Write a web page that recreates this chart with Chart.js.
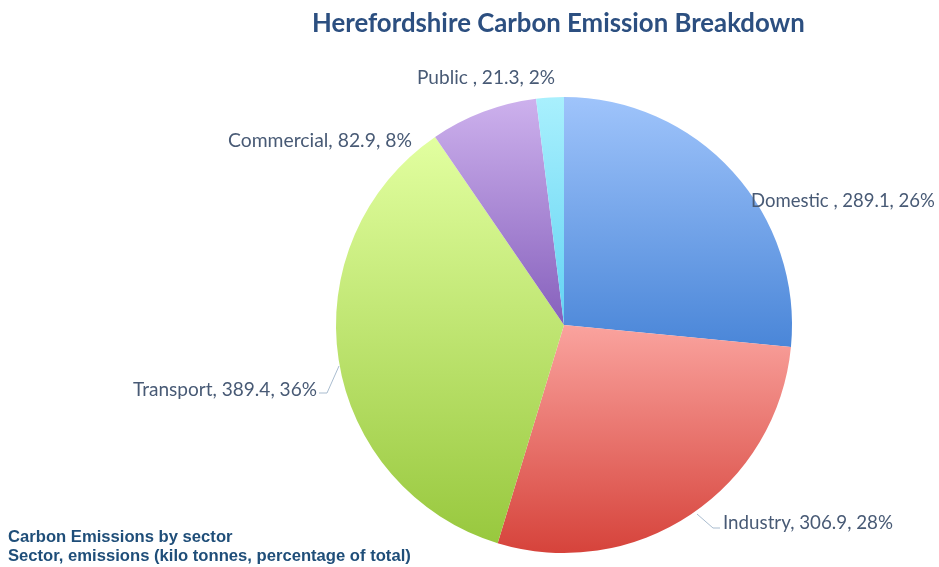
<!DOCTYPE html>
<html>
<head>
<meta charset="utf-8">
<script src="https://cdn.jsdelivr.net/npm/chart.js@4"></script>
<style>
  html, body { margin: 0; padding: 0; background: #fff; }
  #wrap { width: 939px; height: 567px; position: relative; }
</style>
</head>
<body>
<div id="wrap"><canvas id="pieChart" width="939" height="567"></canvas></div>
<script>
// Data
const sectors = ['Domestic', 'Industry', 'Transport', 'Commercial', 'Public'];
const emissions = [289.1, 306.9, 389.4, 82.9, 21.3];
const percents = [26, 28, 36, 8, 2];
const sectorLabels = ['Domestic , 289.1, 26%', 'Industry, 306.9, 28%', 'Transport, 389.4, 36%', 'Commercial, 82.9, 8%', 'Public , 21.3, 2%'];

const titleText = 'Herefordshire Carbon Emission Breakdown';
const noteLines = ['Carbon Emissions by sector', 'Sector, emissions (kilo tonnes, percentage of total)'];

// gradient colours per slice (top -> bottom)
const gradTop = ['#9fc4fb', '#faa39e', '#e2ffa0', '#cdb1ed', '#a9f0fd'];
const gradBottom = ['#4a86d8', '#d6433b', '#98c83e', '#8660bc', '#62d3f3'];

// label placement: left x, middle y, target width
const labelPos = [
    { x: 751, y: 201, w: 184 },
    { x: 723, y: 523, w: 170 },
    { x: 133, y: 390, w: 184 },
    { x: 228, y: 141, w: 184 },
    { x: 417, y: 78, w: 138 }
];
// leader lines (only drawn for some slices)
const leaders = {
    1: [[697, 514], [713, 528], [720, 528]],
    2: [[339, 366], [327, 393], [319, 393]]
};

const FONT = 'Lato, "Open Sans", sans-serif';
const NOTE_FONT = '"Liberation Sans", Arial, sans-serif';

function fitSize(ctx, text, weight, family, width) {
    ctx.font = weight + ' 20px ' + family;
    return 20 * width / ctx.measureText(text).width;
}

// vertical extent of a sector, used for per-slice gradients
function sectorExtent(cx, cy, r, a0, a1) {
    const ys = [cy, cy + r * Math.sin(a0), cy + r * Math.sin(a1)];
    [-Math.PI / 2, Math.PI / 2, Math.PI * 1.5].forEach(a => {
        if (a > a0 && a < a1) ys.push(cy + r * Math.sin(a));
    });
    return [Math.min(...ys), Math.max(...ys)];
}

function sliceFill(context) {
    const chart = context.chart;
    const area = chart.chartArea;
    const i = context.dataIndex;
    if (!area) return gradTop[i];
    const cx = (area.left + area.right) / 2;
    const cy = (area.top + area.bottom) / 2;
    const r = Math.min(area.right - area.left, area.bottom - area.top) / 2;
    const total = emissions.reduce((a, b) => a + b, 0);
    let before = 0;
    for (let k = 0; k < i; k++) before += emissions[k];
    const a0 = -Math.PI / 2 + before / total * Math.PI * 2;
    const a1 = a0 + emissions[i] / total * Math.PI * 2;
    const [y0, y1] = sectorExtent(cx, cy, r, a0, a1);
    const g = chart.ctx.createLinearGradient(0, y0, 0, y1);
    g.addColorStop(0, gradTop[i]);
    g.addColorStop(1, gradBottom[i]);
    return g;
}

const textPlugin = {
    id: 'textPlugin',
    afterDraw(chart) {
        const ctx = chart.ctx;
        ctx.save();

        // title
        const ts = fitSize(ctx, titleText, 'bold', FONT, 493);
        ctx.font = 'bold ' + ts + 'px ' + FONT;
        ctx.fillStyle = '#2c4f80';
        ctx.textBaseline = 'middle';
        ctx.textAlign = 'left';
        ctx.fillText(titleText, 312, 24);

        // leader lines
        ctx.strokeStyle = '#a9bccf';
        ctx.lineWidth = 1;
        Object.keys(leaders).forEach(k => {
            const pts = leaders[k];
            ctx.beginPath();
            ctx.moveTo(pts[0][0], pts[0][1]);
            for (let j = 1; j < pts.length; j++) ctx.lineTo(pts[j][0], pts[j][1]);
            ctx.stroke();
        });

        // slice labels
        ctx.fillStyle = '#485a75';
        sectorLabels.forEach((txt, i) => {
            const p = labelPos[i];
            const s = fitSize(ctx, txt, 'normal', FONT, p.w);
            ctx.font = s + 'px ' + FONT;
            ctx.fillText(txt, p.x, p.y);
        });

        // note at bottom left
        const ns = fitSize(ctx, noteLines[1], 'bold', NOTE_FONT, 403);
        ctx.fillStyle = '#1f4e79';
        ctx.font = 'bold ' + ns + 'px ' + NOTE_FONT;
        ctx.fillText(noteLines[0], 8, 537);
        ctx.fillText(noteLines[1], 8, 556);

        ctx.restore();
    }
};

const ctx = document.getElementById('pieChart').getContext('2d');
new Chart(ctx, {
    type: 'pie',
    data: {
        labels: sectors,
        datasets: [{
            data: emissions,
            backgroundColor: sliceFill,
            borderWidth: 0
        }]
    },
    options: {
        responsive: false,
        animation: false,
        layout: {
            padding: { top: 97, bottom: 14, left: 336, right: 147 }
        },
        plugins: {
            legend: { display: false },
            tooltip: { enabled: false }
        }
    },
    plugins: [textPlugin]
});
</script>
</body>
</html>
